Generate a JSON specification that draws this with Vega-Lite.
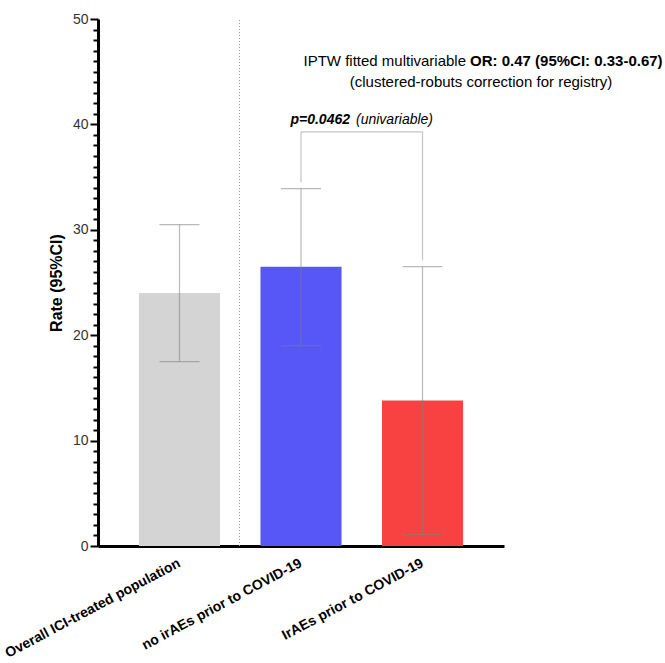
{
  "$schema": "https://vega.github.io/schema/vega-lite/v6.json",
  "width": 406,
  "height": 527,
  "autosize": {"type": "none"},
  "padding": {"left": 98, "top": 19, "right": 161, "bottom": 117},
  "config": {
    "font": "Liberation Sans",
    "view": {"stroke": null},
    "axisY": {
      "grid": false, "labelFontSize": 14, "labelColor": "#333", "labelPadding": 2,
      "labelOverlap": false, "ticks": true, "tickColor": "#000", "tickWidth": 2, "tickSize": 6,
      "domainWidth": 3, "domainColor": "#000",
      "titleFontSize": 16, "titleFontWeight": "bold", "titleColor": "#000", "titlePadding": 8
    }
  },
  "datasets": {
    "bars": [
      {"group": "Overall ICI-treated population", "rate": 24.0, "lo": 17.5, "hi": 30.5},
      {"group": "no irAEs prior to COVID-19", "rate": 26.5, "lo": 19.0, "hi": 33.9},
      {"group": "IrAEs prior to COVID-19", "rate": 13.8, "lo": 1.1, "hi": 26.5}
    ],
    "bracketTop": [
      {"from": "no irAEs prior to COVID-19", "to": "IrAEs prior to COVID-19", "y": 39.3}
    ],
    "bracketLegs": [
      {"g": "no irAEs prior to COVID-19", "y1": 34.5, "y2": 39.3},
      {"g": "IrAEs prior to COVID-19", "y1": 27.1, "y2": 39.3}
    ]
  },
  "layer": [
    {
      "data": {"name": "bars"},
      "mark": {"type": "bar"},
      "encoding": {
        "x": {
          "field": "group", "type": "nominal", "title": null,
          "scale": {
            "domain": ["Overall ICI-treated population", "no irAEs prior to COVID-19", "IrAEs prior to COVID-19"],
            "paddingInner": 0.333, "paddingOuter": 0.337
          },
          "axis": {
            "labelAngle": -28, "labelAlign": "right", "labelBaseline": "middle",
            "labelFontWeight": "bold", "labelFontSize": 14, "labelColor": "#000", "labelLimit": 400,
            "labelPadding": 16, "ticks": false, "domainWidth": 3, "domainColor": "#000"
          }
        },
        "y": {
          "field": "rate", "type": "quantitative", "title": "Rate (95%CI)",
          "scale": {"domain": [0, 50], "nice": false},
          "axis": {
            "tickCount": 50,
            "labelExpr": "datum.value % 10 === 0 ? datum.label : ''",
            "tickSize": {"condition": {"test": "datum.value % 10 === 0", "value": 8}, "value": 5}
          }
        },
        "color": {
          "field": "group", "type": "nominal", "legend": null,
          "scale": {
            "domain": ["Overall ICI-treated population", "no irAEs prior to COVID-19", "IrAEs prior to COVID-19"],
            "range": ["#d4d4d4", "#5757f8", "#f84242"]
          }
        }
      }
    },
    {
      "data": {"name": "bars"},
      "mark": {"type": "rule", "color": "#808080", "opacity": 0.55, "strokeWidth": 1.2},
      "encoding": {
        "x": {"field": "group", "type": "nominal", "title": null},
        "y": {"field": "lo", "type": "quantitative", "title": "Rate (95%CI)"},
        "y2": {"field": "hi"}
      }
    },
    {
      "data": {"name": "bars"},
      "mark": {"type": "tick", "color": "#808080", "opacity": 0.55, "size": 40, "thickness": 1.2},
      "encoding": {
        "x": {"field": "group", "type": "nominal", "title": null},
        "y": {"field": "lo", "type": "quantitative", "title": "Rate (95%CI)"}
      }
    },
    {
      "data": {"name": "bars"},
      "mark": {"type": "tick", "color": "#808080", "opacity": 0.55, "size": 40, "thickness": 1.2},
      "encoding": {
        "x": {"field": "group", "type": "nominal", "title": null},
        "y": {"field": "hi", "type": "quantitative", "title": "Rate (95%CI)"}
      }
    },
    {
      "data": {"name": "bracketTop"},
      "mark": {"type": "rule", "color": "#c4c4c4", "strokeWidth": 1.2},
      "encoding": {
        "x": {"field": "from", "type": "nominal", "title": null},
        "x2": {"field": "to"},
        "y": {"field": "y", "type": "quantitative", "title": "Rate (95%CI)"}
      }
    },
    {
      "data": {"name": "bracketLegs"},
      "mark": {"type": "rule", "color": "#c4c4c4", "strokeWidth": 1.2},
      "encoding": {
        "x": {"field": "g", "type": "nominal", "title": null},
        "y": {"field": "y1", "type": "quantitative", "title": "Rate (95%CI)"},
        "y2": {"field": "y2"}
      }
    },
    {
      "data": {"values": [{"lo": 0, "hi": 50}]},
      "mark": {"type": "rule", "color": "#999", "strokeDash": [1, 2], "strokeWidth": 1, "xOffset": -61.5},
      "encoding": {
        "x": {"datum": "no irAEs prior to COVID-19", "type": "nominal"},
        "y": {"field": "lo", "type": "quantitative", "title": "Rate (95%CI)"},
        "y2": {"field": "hi"}
      }
    },
    {
      "data": {"values": [{"t": "IPTW fitted multivariable"}]},
      "mark": {"type": "text", "align": "right", "baseline": "middle", "fontSize": 15, "color": "#000", "xOffset": 43.5},
      "encoding": {
        "x": {"datum": "IrAEs prior to COVID-19", "type": "nominal"},
        "y": {"datum": 46.0, "type": "quantitative"},
        "text": {"field": "t"}
      }
    },
    {
      "data": {"values": [{"t": "OR: 0.47 (95%CI: 0.33-0.67)"}]},
      "mark": {"type": "text", "align": "left", "baseline": "middle", "fontSize": 15, "fontWeight": "bold", "color": "#000", "xOffset": 47.5},
      "encoding": {
        "x": {"datum": "IrAEs prior to COVID-19", "type": "nominal"},
        "y": {"datum": 46.0, "type": "quantitative"},
        "text": {"field": "t"}
      }
    },
    {
      "data": {"values": [{"t": "(clustered-robuts correction for registry)"}]},
      "mark": {"type": "text", "align": "center", "baseline": "middle", "fontSize": 15, "color": "#000", "xOffset": 58.5},
      "encoding": {
        "x": {"datum": "IrAEs prior to COVID-19", "type": "nominal"},
        "y": {"datum": 44.0, "type": "quantitative"},
        "text": {"field": "t"}
      }
    },
    {
      "data": {"values": [{"t": "p=0.0462"}]},
      "mark": {"type": "text", "align": "right", "baseline": "middle", "fontSize": 14, "fontWeight": "bold", "fontStyle": "italic", "color": "#000", "xOffset": 49},
      "encoding": {
        "x": {"datum": "no irAEs prior to COVID-19", "type": "nominal"},
        "y": {"datum": 40.4, "type": "quantitative"},
        "text": {"field": "t"}
      }
    },
    {
      "data": {"values": [{"t": "(univariable)"}]},
      "mark": {"type": "text", "align": "left", "baseline": "middle", "fontSize": 14, "fontStyle": "italic", "color": "#000", "xOffset": 55},
      "encoding": {
        "x": {"datum": "no irAEs prior to COVID-19", "type": "nominal"},
        "y": {"datum": 40.4, "type": "quantitative"},
        "text": {"field": "t"}
      }
    }
  ]
}
